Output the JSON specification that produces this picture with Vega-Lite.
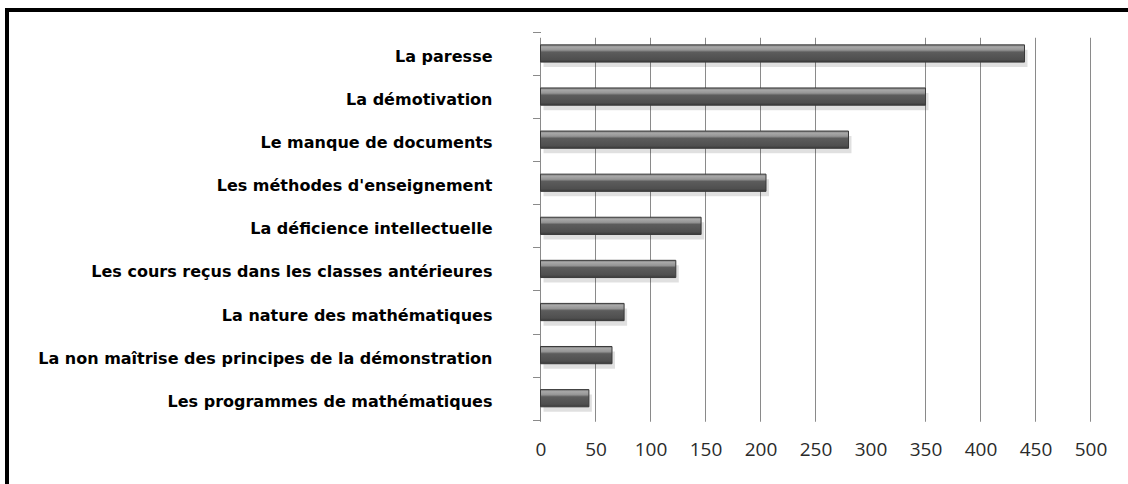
{
  "$schema": "https://vega.github.io/schema/vega-lite/v6.json",
  "width": 1121,
  "height": 474,
  "autosize": {"type": "none"},
  "padding": {"left": 7, "top": 10, "right": 0, "bottom": 0},
  "background": "white",
  "config": {
    "view": {"stroke": "black", "strokeWidth": 4, "strokeDash": [1121, 1595, 474], "strokeCap": "square", "fill": "white"}
  },
  "datasets": {
    "bars": [
      {"cause": "La paresse", "n": 440},
      {"cause": "La démotivation", "n": 350},
      {"cause": "Le manque de documents", "n": 280},
      {"cause": "Les méthodes d'enseignement", "n": 205},
      {"cause": "La déficience intellectuelle", "n": 146},
      {"cause": "Les cours reçus dans les classes antérieures", "n": 123},
      {"cause": "La nature des mathématiques", "n": 76},
      {"cause": "La non maîtrise des principes de la démonstration", "n": 65},
      {"cause": "Les programmes de mathématiques", "n": 44}
    ],
    "grid": [
      {"v": 0}, {"v": 50}, {"v": 100}, {"v": 150}, {"v": 200}, {"v": 250},
      {"v": 350}, {"v": 400}, {"v": 450}, {"v": 500}
    ]
  },
  "layer": [
    {
      "data": {"name": "grid"},
      "mark": {"type": "tick", "orient": "vertical", "thickness": 1, "size": 384, "yOffset": 4, "color": "#8a8a8a", "opacity": 1},
      "encoding": {
        "x": {"field": "v", "type": "quantitative", "scale": {"domain": [-485, 534.09], "nice": false, "zero": false},
              "axis": {"orient": "bottom", "offset": -65, "values": [0, 50, 100, 150, 200, 250, 300, 350, 400, 450, 500], "domain": false, "ticks": false, "tickSize": 0, "grid": false, "title": null, "labelFont": "Open Sans", "labelFontSize": 19, "labelColor": "#2a2a2a", "labelPadding": 21, "labelFlush": false, "labelOverlap": false, "labelAngle": 0}},
        "y": {"datum": "La déficience intellectuelle", "type": "nominal",
              "scale": {"type": "band", "domain": ["La paresse", "La démotivation", "Le manque de documents", "Les méthodes d'enseignement", "La déficience intellectuelle", "Les cours reçus dans les classes antérieures", "La nature des mathématiques", "La non maîtrise des principes de la démonstration", "Les programmes de mathématiques"], "paddingInner": 0, "paddingOuter": 1.1766, "align": 0.2545},
              "axis": {"orient": "left", "offset": -533.5, "domain": false, "ticks": true, "tickBand": "extent", "tickSize": 8, "tickColor": "#8a8a8a", "tickWidth": 1, "grid": false, "title": null, "labelPadding": 40.5, "labelOffset": 3, "labelFont": "DejaVu Sans", "labelFontWeight": "bold", "labelFontSize": 16, "labelColor": "#000000", "labelLimit": 700}}
      }
    },
    {
      "data": {"name": "bars"},
      "mark": {"type": "bar", "height": {"band": 0.4}, "color": "#000000", "opacity": 0.12, "yOffset": 5, "xOffset": 3},
      "encoding": {
        "x": {"field": "n", "type": "quantitative", "scale": {"domain": [-485, 534.09], "nice": false, "zero": false},
              "axis": {"orient": "bottom", "offset": -65, "values": [0, 50, 100, 150, 200, 250, 300, 350, 400, 450, 500], "domain": false, "ticks": false, "tickSize": 0, "grid": false, "title": null, "labelFont": "Open Sans", "labelFontSize": 19, "labelColor": "#2a2a2a", "labelPadding": 21, "labelFlush": false, "labelOverlap": false, "labelAngle": 0}},
        "y": {"field": "cause", "type": "nominal",
              "scale": {"type": "band", "domain": ["La paresse", "La démotivation", "Le manque de documents", "Les méthodes d'enseignement", "La déficience intellectuelle", "Les cours reçus dans les classes antérieures", "La nature des mathématiques", "La non maîtrise des principes de la démonstration", "Les programmes de mathématiques"], "paddingInner": 0, "paddingOuter": 1.1766, "align": 0.2545},
              "axis": {"orient": "left", "offset": -533.5, "domain": false, "ticks": true, "tickBand": "extent", "tickSize": 8, "tickColor": "#8a8a8a", "tickWidth": 1, "grid": false, "title": null, "labelPadding": 40.5, "labelOffset": 3, "labelFont": "DejaVu Sans", "labelFontWeight": "bold", "labelFontSize": 16, "labelColor": "#000000", "labelLimit": 700}}
      }
    },
    {
      "data": {"name": "bars"},
      "mark": {
        "type": "bar",
        "height": {"band": 0.4},
        "stroke": "#3a3a3a",
        "strokeWidth": 1,
        "color": {
          "gradient": "linear", "x1": 0, "y1": 0, "x2": 0, "y2": 1,
          "stops": [
            {"offset": 0, "color": "#7a7a7a"},
            {"offset": 0.12, "color": "#a8a8a8"},
            {"offset": 0.3, "color": "#959595"},
            {"offset": 0.42, "color": "#5c5c5c"},
            {"offset": 0.85, "color": "#4f4f4f"},
            {"offset": 1, "color": "#3a3a3a"}
          ]
        }
      },
      "encoding": {
        "x": {"field": "n", "type": "quantitative", "scale": {"domain": [-485, 534.09], "nice": false, "zero": false},
              "axis": {"orient": "bottom", "offset": -65, "values": [0, 50, 100, 150, 200, 250, 300, 350, 400, 450, 500], "domain": false, "ticks": false, "tickSize": 0, "grid": false, "title": null, "labelFont": "Open Sans", "labelFontSize": 19, "labelColor": "#2a2a2a", "labelPadding": 21, "labelFlush": false, "labelOverlap": false, "labelAngle": 0}},
        "y": {"field": "cause", "type": "nominal",
              "scale": {"type": "band", "domain": ["La paresse", "La démotivation", "Le manque de documents", "Les méthodes d'enseignement", "La déficience intellectuelle", "Les cours reçus dans les classes antérieures", "La nature des mathématiques", "La non maîtrise des principes de la démonstration", "Les programmes de mathématiques"], "paddingInner": 0, "paddingOuter": 1.1766, "align": 0.2545},
              "axis": {"orient": "left", "offset": -533.5, "domain": false, "ticks": true, "tickBand": "extent", "tickSize": 8, "tickColor": "#8a8a8a", "tickWidth": 1, "grid": false, "title": null, "labelPadding": 40.5, "labelOffset": 3, "labelFont": "DejaVu Sans", "labelFontWeight": "bold", "labelFontSize": 16, "labelColor": "#000000", "labelLimit": 700}}
      }
    }
  ]
}
